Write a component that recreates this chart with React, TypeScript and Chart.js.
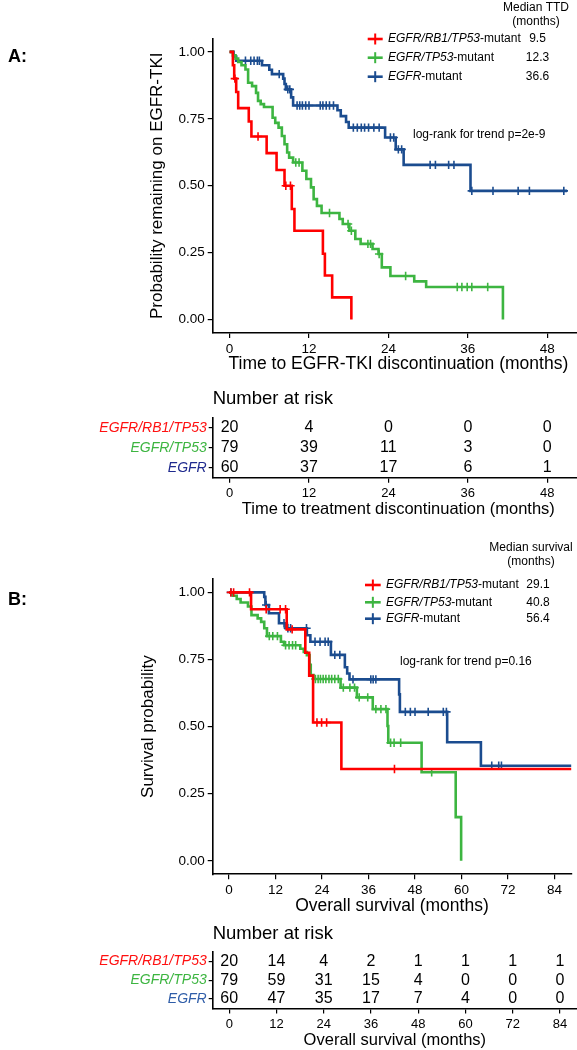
import React, { useEffect, useRef } from 'react';
import { Chart, registerables } from 'chart.js';

Chart.register(...registerables);

const FONT = '"Liberation Sans", Arial, Helvetica, sans-serif';

// ---------------- shared labels ----------------
const groupItalic = ['EGFR/RB1/TP53', 'EGFR/TP53', 'EGFR'];
const groupSuffix = '-mutant';
const probTicks = [0, 0.25, 0.5, 0.75, 1];

// ---------------- Panel A: time to EGFR-TKI discontinuation ----------------
const ttdTicks = [0, 12, 24, 36, 48];

const ttdRedTimes = [0, 0.5, 0.7, 1.0, 1.3, 2.9, 3.3, 5.6, 7.1, 8.3, 9.4, 9.8, 14.1, 14.4, 15.5, 18.4];
const ttdRedSurv = [1, 0.95, 0.9, 0.85, 0.79, 0.74, 0.684, 0.622, 0.559, 0.5, 0.413, 0.332, 0.246, 0.165, 0.083, 0];
const ttdRedCensor = [0.8, 4.3, 8.5, 9.2];

const ttdGreenTimes = [0, 0.5, 0.9, 1.3, 1.8, 2.4, 2.8, 3.4, 4.0, 4.3, 4.7, 5.2, 6.5, 6.9, 7.4, 7.9, 8.3, 8.7, 9.0, 9.6, 11.0, 11.6, 12.3, 12.7, 13.2, 13.9, 16.6, 17.1, 18.1, 19.0, 19.8, 21.6, 22.5, 23.0, 24.3, 27.9, 29.7, 41.3];
const ttdGreenSurv = [1, 0.987, 0.975, 0.962, 0.95, 0.934, 0.885, 0.872, 0.847, 0.817, 0.805, 0.794, 0.754, 0.735, 0.717, 0.686, 0.655, 0.624, 0.605, 0.587, 0.556, 0.525, 0.494, 0.45, 0.425, 0.398, 0.376, 0.357, 0.332, 0.301, 0.283, 0.264, 0.245, 0.195, 0.163, 0.143, 0.122, 0];
const ttdGreenCensor = [10.0, 10.5, 15.1, 17.9, 18.4, 20.9, 21.3, 22.6, 26.6, 34.4, 35.1, 35.9, 36.6, 39.0];

const ttdBlueTimes = [0, 0.6, 1.0, 4.9, 6.0, 6.4, 8.1, 8.3, 8.5, 9.3, 9.6, 16.3, 16.8, 17.6, 18.0, 23.5, 25.1, 26.3, 36.4, 51.0];
const ttdBlueSurv = [1, 0.983, 0.967, 0.95, 0.933, 0.917, 0.9, 0.88, 0.86, 0.83, 0.8, 0.782, 0.76, 0.738, 0.717, 0.68, 0.636, 0.578, 0.481, 0.481];
const ttdBlueCensor = [2.4, 3.2, 3.7, 4.2, 4.5, 7.5, 8.8, 9.1, 10.2, 10.6, 11.0, 11.5, 12.0, 13.7, 14.1, 14.6, 15.1, 15.7, 18.7, 19.3, 19.9, 20.4, 21.0, 21.8, 22.6, 24.3, 24.8, 25.5, 26.0, 30.3, 31.1, 33.1, 33.9, 36.6, 39.8, 43.6, 45.3, 50.5];

const ttdMedians = ['9.5', '12.3', '36.6'];
const ttdRiskRed = [20, 4, 0, 0, 0];
const ttdRiskGreen = [79, 39, 11, 3, 0];
const ttdRiskBlue = [60, 37, 17, 6, 1];

// ---------------- Panel B: overall survival ----------------
const osTicks = [0, 12, 24, 36, 48, 60, 72, 84];

const osRedTimes = [0, 5.7, 14.9, 19.7, 20.7, 21.7, 29.0, 90];
const osRedSurv = [1, 0.937, 0.862, 0.775, 0.69, 0.515, 0.342, 0.342];
const osRedCensor = [0.5, 1.2, 5.3, 9.6, 13.2, 14.6, 16.3, 22.7, 23.9, 25.2, 42.7];

const osGreenTimes = [0, 1.0, 2.0, 3.0, 4.9, 5.8, 7.4, 8.3, 9.1, 9.8, 13.4, 14.2, 18.4, 19.3, 20.1, 20.8, 21.1, 21.8, 28.8, 33.0, 37.1, 40.9, 41.1, 49.7, 58.5, 59.9];
const osGreenSurv = [1, 0.987, 0.975, 0.962, 0.947, 0.915, 0.903, 0.89, 0.866, 0.837, 0.816, 0.803, 0.79, 0.778, 0.766, 0.73, 0.692, 0.677, 0.645, 0.609, 0.565, 0.502, 0.44, 0.33, 0.163, 0];
const osGreenCensor = [10.4, 11.3, 12.5, 14.6, 15.5, 16.4, 17.2, 22.3, 23.0, 23.6, 24.3, 25.0, 25.8, 26.5, 27.3, 28.2, 29.5, 31.2, 32.4, 33.6, 35.8, 37.9, 39.2, 40.5, 41.7, 42.6, 44.3, 52.3];

const osBlueTimes = [0, 9.1, 9.4, 10.3, 12.9, 14.6, 20.1, 21.0, 26.3, 29.9, 30.5, 31.1, 43.9, 44.1, 56.3, 65.0, 90];
const osBlueSurv = [1, 0.983, 0.953, 0.922, 0.885, 0.866, 0.84, 0.816, 0.767, 0.721, 0.698, 0.676, 0.62, 0.555, 0.442, 0.354, 0.354];
const osBlueCensor = [0.5, 9.6, 14.2, 15.2, 15.9, 20.0, 22.2, 23.5, 24.8, 25.6, 27.3, 28.6, 32.0, 36.6, 37.2, 37.9, 45.5, 46.8, 48.0, 51.4, 55.3, 56.1, 67.8, 69.6, 70.3];

const osMedians = ['29.1', '40.8', '56.4'];
const osRiskRed = [20, 14, 4, 2, 1, 1, 1, 1];
const osRiskGreen = [79, 59, 31, 15, 4, 0, 0, 0];
const osRiskBlue = [60, 47, 35, 17, 7, 4, 0, 0];

// ---------------- styles ----------------
const RED = '#FF0000';
const GREEN = '#3DB541';
const BLUE = '#1B4C8F';
const RISK_COLORS_A = ['#FF1010', '#3DB541', '#1F2A8E'];
const RISK_COLORS_B = ['#FF1010', '#3DB541', '#2F5DA8'];

function stepAt(times: number[], surv: number[], t: number): number {
  let v = surv[0];
  for (let i = 0; i < times.length; i++) {
    if (times[i] <= t) v = surv[i];
    else break;
  }
  return v;
}

type Group = { times: number[]; surv: number[]; censor: number[]; color: string };

function axisCommon(fontSize: number) {
  return {
    ticks: { font: { family: FONT, size: fontSize }, color: '#000', padding: 3, maxRotation: 0, autoSkip: false },
    grid: { drawOnChartArea: false, drawTicks: true, tickLength: 5, color: '#000', lineWidth: 1.2 },
    border: { display: true, color: '#000', width: 1.6 },
  };
}

function kmConfig(p: {
  groups: Group[];
  xMin: number; xMax: number; xTicks: number[];
  xTitle: string; yTitle: string;
  padding: any; yWidth: number; xHeight: number;
  overlay: any;
}): any {
  const datasets: any[] = [];
  p.groups.forEach((g) => {
    datasets.push({
      type: 'line',
      data: g.times.map((t, i) => ({ x: t, y: g.surv[i] })),
      borderColor: g.color, backgroundColor: g.color,
      borderWidth: 2.6, stepped: 'before', pointRadius: 0, pointHoverRadius: 0, fill: false,
    });
    datasets.push({
      type: 'scatter',
      data: g.censor.map((t) => ({ x: t, y: stepAt(g.times, g.surv, t) })),
      pointStyle: 'cross', pointRadius: 4.2, pointHoverRadius: 4.2,
      borderColor: g.color, backgroundColor: g.color, borderWidth: 1.6,
    });
  });
  const cx = axisCommon(13.5);
  const cy = axisCommon(13.5);
  return {
    type: 'line',
    data: { datasets },
    options: {
      responsive: false, animation: false, events: [],
      layout: { padding: p.padding },
      plugins: { legend: { display: false }, tooltip: { enabled: false } },
      scales: {
        x: {
          type: 'linear', min: p.xMin, max: p.xMax,
          afterBuildTicks: (s: any) => { s.ticks = p.xTicks.map((v) => ({ value: v })); },
          afterFit: (s: any) => { s.height = p.xHeight; },
          ...cx,
          ticks: { ...cx.ticks, callback: (v: any) => String(v) },
          title: { display: true, text: p.xTitle, color: '#000', font: { family: FONT, size: 17.5 }, padding: 0 },
        },
        y: {
          type: 'linear', min: -0.05, max: 1.05,
          afterBuildTicks: (s: any) => { s.ticks = probTicks.map((v) => ({ value: v })); },
          afterFit: (s: any) => { s.width = p.yWidth; },
          ...cy,
          ticks: { ...cy.ticks, callback: (v: any) => Number(v).toFixed(2) },
          title: { display: true, text: p.yTitle, color: '#000', font: { family: FONT, size: 17 }, padding: 0 },
        },
      },
    },
    plugins: [p.overlay],
  };
}

function legendOverlay(o: {
  panel: string; panelY: number;
  header1: string; header2: string; headerX: number; headerY: number[];
  rows: number[]; lineX: number[]; textX: number; valueX: number;
  colors: string[]; values: string[];
  logrank: string; logrankX: number; logrankY: number;
}) {
  return {
    id: 'legendOverlay',
    afterDraw(chart: any) {
      const ctx = chart.ctx as CanvasRenderingContext2D;
      ctx.save();
      ctx.textBaseline = 'middle';
      ctx.fillStyle = '#000';
      ctx.font = `bold 18px ${FONT}`;
      ctx.textAlign = 'left';
      ctx.fillText(o.panel, 8, o.panelY);

      ctx.font = `12px ${FONT}`;
      ctx.textAlign = 'center';
      ctx.fillText(o.header1, o.headerX, o.headerY[0]);
      ctx.fillText(o.header2, o.headerX, o.headerY[1]);

      o.rows.forEach((y, i) => {
        const c = o.colors[i];
        const mid = (o.lineX[0] + o.lineX[1]) / 2;
        ctx.strokeStyle = c;
        ctx.lineWidth = 2.6;
        ctx.beginPath();
        ctx.moveTo(o.lineX[0], y);
        ctx.lineTo(o.lineX[1], y);
        ctx.stroke();
        ctx.lineWidth = 2;
        ctx.beginPath();
        ctx.moveTo(mid, y - 5.5);
        ctx.lineTo(mid, y + 5.5);
        ctx.stroke();

        ctx.fillStyle = '#000';
        ctx.textAlign = 'left';
        ctx.font = `italic 12px ${FONT}`;
        ctx.fillText(groupItalic[i], o.textX, y);
        const w = ctx.measureText(groupItalic[i]).width;
        ctx.font = `12px ${FONT}`;
        ctx.fillText(groupSuffix, o.textX + w, y);
        ctx.textAlign = 'center';
        ctx.fillText(o.values[i], o.valueX, y);
      });

      ctx.textAlign = 'left';
      ctx.font = `12px ${FONT}`;
      ctx.fillText(o.logrank, o.logrankX, o.logrankY);
      ctx.restore();
    },
  };
}

function riskConfig(p: {
  counts: number[][]; times: number[]; colors: string[];
  xMin: number; xMax: number; xTitle: string;
  padding: any; yWidth: number; xHeight: number; titleY: number;
}): any {
  const datasets = p.counts.map((row, r) => ({
    type: 'line',
    data: row.map((_, j) => ({ x: p.times[j], y: groupItalic[r] })),
    pointRadius: 0, showLine: false, borderWidth: 0,
  }));
  const cx = axisCommon(13);
  const cy = axisCommon(14);
  return {
    type: 'line',
    data: { labels: groupItalic, datasets },
    options: {
      responsive: false, animation: false, events: [],
      layout: { padding: p.padding },
      plugins: { legend: { display: false }, tooltip: { enabled: false } },
      scales: {
        x: {
          type: 'linear', min: p.xMin, max: p.xMax,
          afterBuildTicks: (s: any) => { s.ticks = p.times.map((v) => ({ value: v })); },
          afterFit: (s: any) => { s.height = p.xHeight; },
          ...cx,
          ticks: { ...cx.ticks, callback: (v: any) => String(v) },
          title: { display: true, text: p.xTitle, color: '#000', font: { family: FONT, size: 16.5 }, padding: 0 },
        },
        y: {
          type: 'category', labels: groupItalic, offset: true,
          afterFit: (s: any) => { s.width = p.yWidth; },
          ...cy,
          grid: { ...cy.grid, offset: false, tickLength: 4 },
          ticks: {
            ...cy.ticks,
            padding: 2,
            color: (c: any) => p.colors[c.index],
            font: { family: FONT, size: 14, style: 'italic' },
          },
        },
      },
    },
    plugins: [
      {
        id: 'riskText',
        afterDraw(chart: any) {
          const ctx = chart.ctx as CanvasRenderingContext2D;
          ctx.save();
          ctx.fillStyle = '#000';
          ctx.textBaseline = 'middle';
          ctx.textAlign = 'center';
          ctx.font = `16px ${FONT}`;
          p.counts.forEach((row, r) => {
            const meta = chart.getDatasetMeta(r);
            meta.data.forEach((pt: any, j: number) => {
              ctx.fillText(String(row[j]), pt.x, pt.y);
            });
          });
          ctx.textAlign = 'left';
          ctx.font = `18.5px ${FONT}`;
          ctx.fillText('Number at risk', chart.chartArea.left, p.titleY);
          ctx.restore();
        },
      },
    ],
  };
}

function makeA() {
  return kmConfig({
    groups: [
      { times: ttdRedTimes, surv: ttdRedSurv, censor: ttdRedCensor, color: RED },
      { times: ttdGreenTimes, surv: ttdGreenSurv, censor: ttdGreenCensor, color: GREEN },
      { times: ttdBlueTimes, surv: ttdBlueSurv, censor: ttdBlueCensor, color: BLUE },
    ],
    xMin: -2.55, xMax: 53.55, xTicks: ttdTicks,
    xTitle: 'Time to EGFR-TKI discontinuation (months)',
    yTitle: 'Probability remaining on EGFR-TKI',
    padding: { left: 147.3, top: 38.5, right: 16, bottom: 5.8 },
    yWidth: 65.4, xHeight: 41.2,
    overlay: legendOverlay({
      panel: 'A:', panelY: 57,
      header1: 'Median TTD', header2: '(months)', headerX: 536, headerY: [8, 22],
      rows: [39, 57.7, 76.7], lineX: [367.7, 382.7], textX: 388, valueX: 537.5,
      colors: [RED, GREEN, BLUE], values: ttdMedians,
      logrank: 'log-rank for trend p=2e-9', logrankX: 413, logrankY: 135,
    }),
  });
}

function makeRiskA() {
  return riskConfig({
    counts: [ttdRiskRed, ttdRiskGreen, ttdRiskBlue], times: ttdTicks, colors: RISK_COLORS_A,
    xMin: -2.55, xMax: 53.55, xTitle: 'Time to treatment discontinuation (months)',
    padding: { left: 0, top: 37.8, right: 16, bottom: 0.2 }, yWidth: 212.7, xHeight: 42, titleY: 19.4,
  });
}

function makeB() {
  return kmConfig({
    groups: [
      { times: osRedTimes, surv: osRedSurv, censor: osRedCensor, color: RED },
      { times: osGreenTimes, surv: osGreenSurv, censor: osGreenCensor, color: GREEN },
      { times: osBlueTimes, surv: osBlueSurv, censor: osBlueCensor, color: BLUE },
    ],
    xMin: -4.2, xMax: 88.3, xTicks: osTicks,
    xTitle: 'Overall survival (months)',
    yTitle: 'Survival probability',
    padding: { left: 137.8, top: 48.9, right: 0, bottom: 3.8 },
    yWidth: 74.9, xHeight: 41.9,
    overlay: legendOverlay({
      panel: 'B:', panelY: 70,
      header1: 'Median survival', header2: '(months)', headerX: 531, headerY: [18, 32],
      rows: [55, 72.3, 88.7], lineX: [365, 380.7], textX: 386, valueX: 538,
      colors: [RED, GREEN, BLUE], values: osMedians,
      logrank: 'log-rank for trend p=0.16', logrankX: 400, logrankY: 131.7,
    }),
  });
}

function makeRiskB() {
  return riskConfig({
    counts: [osRiskRed, osRiskGreen, osRiskBlue], times: osTicks, colors: RISK_COLORS_B,
    xMin: -4.2, xMax: 88.3, xTitle: 'Overall survival (months)',
    padding: { left: 0, top: 32, right: 0, bottom: 4.6 }, yWidth: 212.7, xHeight: 41.9, titleY: 13.6,
  });
}

function ChartCanvas(props: { make: () => any; left: number; top: number; width: number; height: number }) {
  const ref = useRef<HTMLCanvasElement>(null);
  useEffect(() => {
    const chart = new Chart(ref.current as HTMLCanvasElement, props.make());
    return () => chart.destroy();
  }, []);
  return (
    <canvas
      ref={ref}
      width={props.width}
      height={props.height}
      style={{ position: 'absolute', left: props.left, top: props.top, width: props.width, height: props.height }}
    />
  );
}

export default function App() {
  return (
    <div style={{ position: 'absolute', left: 0, top: 0, width: 577, height: 1050, overflow: 'hidden', background: '#fff' }}>
      <ChartCanvas make={makeA} left={0} top={0} width={600} height={380} />
      <ChartCanvas make={makeRiskA} left={0} top={380} width={600} height={140} />
      <ChartCanvas make={makeB} left={0} top={530} width={577} height={390} />
      <ChartCanvas make={makeRiskB} left={0} top={920} width={577} height={135} />
    </div>
  );
}
